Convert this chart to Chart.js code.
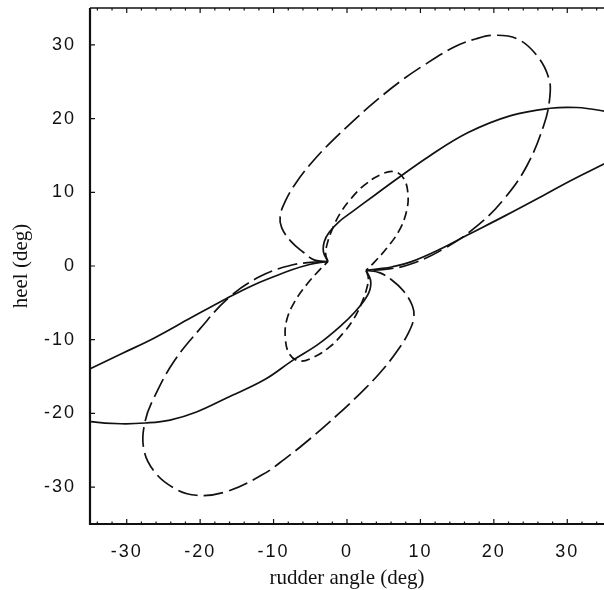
<!DOCTYPE html>
<html lang="en">
<head>
    <meta charset="UTF-8">
    <title>Heel vs rudder angle</title>
    <script src="https://cdn.jsdelivr.net/npm/chart.js"></script>
    <style>
        html, body { margin: 0; padding: 0; background: #fff; }
    </style>
</head>
<body>
    <canvas id="myChart" width="604" height="590"></canvas>

    <script>
        // axis ranges, ticks and labels
        var xRange = [-35, 35];
        var yRange = [-35, 35];
        var xTicks = [-30, -20, -10, 0, 10, 20, 30];
        var yTicks = [-30, -20, -10, 0, 10, 20, 30];
        var xTitle = 'rudder angle (deg)';
        var yTitle = 'heel (deg)';

        // solid curve, split at the two pinch points near the origin
        var solidLowerIn = [[-37, -14.9], [-34.9, -13.9], [-30.5, -11.8], [-26.3, -9.8], [-21.2, -7.0], [-16.4, -4.4],
            [-13, -2.7], [-10.1, -1.5], [-7.5, -0.5], [-5.1, 0.2], [-3.6, 0.5], [-2.6, 0.6]];
        var solidUpper = [[-2.6, 0.6], [-3.2, 1.9], [-3.1, 3.3], [-2.4, 4.6], [-1.1, 6.0], [0.5, 7.2], [3.9, 9.7],
            [7.2, 12.1], [11.2, 14.9], [16.5, 18.1], [22.3, 20.4], [27.7, 21.4], [31.3, 21.5], [34.5, 21.1], [37, 20.5]];
        var solidUpperIn = [[37, 14.9], [34.5, 13.6], [30.5, 11.6], [26.8, 9.6], [21.5, 6.8], [16.4, 4.2], [12.5, 2.2],
            [8.8, 0.6], [6.2, -0.1], [4.3, -0.4], [2.6, -0.6]];
        var solidLower = [[2.6, -0.6], [3.2, -1.9], [3.1, -3.3], [2.4, -4.6], [1.1, -6.2], [-0.6, -7.9], [-3.9, -10.6],
            [-7.4, -12.8], [-11.2, -15.4], [-16.4, -17.9], [-20.5, -19.8], [-24.1, -20.9], [-27.5, -21.3],
            [-30.8, -21.4], [-34.9, -21.1], [-37, -20.6]];

        // long dashed curve (big lobes)
        var longUpper = [[-2.6, 0.6], [-4.4, 0.8], [-6, 1.9], [-7.6, 3.3], [-8.9, 5.2], [-9.1, 6.8], [-8.4, 8.8],
            [-7, 11.2], [-5, 13.8], [-2.5, 16.5], [1.2, 20], [4.3, 22.7], [7.2, 25], [10.1, 27], [14.6, 29.7],
            [17.5, 30.8], [20, 31.3], [23.2, 30.8], [25.9, 28.5], [27.5, 25.4], [27.6, 22.7], [26.8, 19.1],
            [24.5, 13.6], [21.4, 9.1], [17.8, 5.5], [13.3, 2.4], [8.8, 0.3], [5.7, -0.4], [2.6, -0.6]];
        var longLower = [[2.6, -0.6], [4.4, -0.9], [6.1, -1.9], [7.7, -3.4], [8.9, -5.4], [9.1, -7.0], [8.4, -9.0],
            [7.0, -11.3], [5.0, -13.9], [2.5, -16.6], [-1.2, -20.1], [-5.1, -23.5], [-8.5, -26.2], [-11.5, -28.3],
            [-16.4, -30.6], [-20.5, -31.1], [-23.6, -30.1], [-26.3, -27.8], [-27.7, -24.7], [-27.5, -21.1],
            [-26.3, -17.9], [-23.6, -13], [-20, -8.5], [-16, -4.2], [-11.8, -1.4], [-8, 0], [-5, 0.5], [-2.6, 0.6]];

        // short dashed curve (small lobes)
        var shortUpper = [[-2.6, 0.6], [-2.9, 1.6], [-2.7, 3.0], [-2.0, 5.0], [-0.9, 7.2], [0.6, 9.2], [2.4, 11.0],
            [4.6, 12.4], [6.4, 12.8], [7.7, 11.9], [8.3, 9.8], [8.1, 7.4], [7.1, 4.8], [5.4, 2.4], [3.7, 0.5], [2.6, -0.6]];
        var shortLower = [[2.6, -0.6], [2.9, -1.6], [2.7, -3.0], [2.0, -5.0], [0.9, -7.2], [-0.6, -9.2], [-2.4, -11.0],
            [-4.6, -12.4], [-6.4, -12.9], [-7.8, -12.0], [-8.4, -9.8], [-8.2, -7.3], [-7.1, -4.8], [-5.4, -2.4],
            [-3.7, -0.5], [-2.6, 0.6]];

        function toPoints(arr) {
            return arr.map(function (p) { return { x: p[0], y: p[1] }; });
        }

        function curve(arr, dash) {
            return {
                data: toPoints(arr),
                showLine: true,
                borderColor: '#111',
                borderWidth: 1.7,
                borderDash: dash,
                pointRadius: 0,
                tension: 0.4,
                fill: false,
                clip: 0
            };
        }

        function fixedTicks(values) {
            return function (s) {
                s.ticks = values.map(function (v) { return { value: v }; });
            };
        }

        // tick labels are letter spaced in the original
        var spacedLabels = {
            id: 'spacedLabels',
            afterLayout: function (chart) {
                Object.values(chart.scales).forEach(function (s) {
                    if (s._spaced) return;
                    var orig = s.drawLabels;
                    s.drawLabels = function (area) {
                        var ctx = this.ctx;
                        ctx.save();
                        ctx.letterSpacing = '2px';
                        orig.call(this, area);
                        ctx.restore();
                    };
                    s._spaced = true;
                });
            }
        };

        // frame with inward ticks
        var frame = {
            id: 'frame',
            afterDatasetsDraw: function (chart) {
                var ctx = chart.ctx, a = chart.chartArea;
                var xs = chart.scales.x, ys = chart.scales.y;
                ctx.save();
                ctx.strokeStyle = '#111';
                ctx.lineWidth = 2.2;
                ctx.beginPath();
                ctx.moveTo(a.left, a.top);
                ctx.lineTo(a.left, a.bottom);
                ctx.lineTo(a.right, a.bottom);
                ctx.stroke();
                ctx.lineWidth = 1.5;
                ctx.beginPath();
                ctx.moveTo(a.left, a.top);
                ctx.lineTo(a.right, a.top);
                ctx.stroke();

                ctx.lineWidth = 1.2;
                ctx.beginPath();
                for (var v = -34; v <= 34; v += 2) {
                    var len = v % 10 === 0 ? 5 : 2.5;
                    var px = xs.getPixelForValue(v);
                    ctx.moveTo(px, a.bottom);
                    ctx.lineTo(px, a.bottom - len);
                    ctx.moveTo(px, a.top);
                    ctx.lineTo(px, a.top + len);
                }
                ys.ticks.forEach(function (t) {
                    var py = ys.getPixelForValue(t.value);
                    ctx.moveTo(a.left, py);
                    ctx.lineTo(a.left + 5, py);
                });
                ctx.stroke();
                ctx.restore();
            }
        };

        var tickFont = { family: 'Liberation Sans', size: 18 };
        var titleFont = { family: 'Liberation Serif', size: 21, lineHeight: 1.1 };

        var ctx = document.getElementById('myChart').getContext('2d');
        var myChart = new Chart(ctx, {
            type: 'scatter',
            data: {
                datasets: [
                    curve(solidLowerIn, []),
                    curve(solidUpper, []),
                    curve(solidUpperIn, []),
                    curve(solidLower, []),
                    curve(longUpper, [20, 6]),
                    curve(longLower, [20, 6]),
                    curve(shortUpper, [9, 5]),
                    curve(shortLower, [9, 5])
                ]
            },
            options: {
                responsive: false,
                animation: false,
                events: [],
                layout: { padding: { top: 8, right: 0, bottom: 0, left: 0 } },
                plugins: {
                    legend: { display: false },
                    tooltip: { enabled: false }
                },
                scales: {
                    x: {
                        type: 'linear',
                        min: xRange[0],
                        max: xRange[1],
                        afterBuildTicks: fixedTicks(xTicks),
                        grid: { display: false },
                        border: { display: false },
                        ticks: {
                            autoSkip: false,
                            maxRotation: 0,
                            padding: 9,
                            color: '#111',
                            font: tickFont
                        },
                        title: {
                            display: true,
                            text: xTitle,
                            color: '#111',
                            font: titleFont,
                            padding: { top: 0, bottom: 0 }
                        },
                        afterFit: function (s) {
                            s.height = 66;
                            s.paddingLeft = 0;
                            s.paddingRight = 0;
                        }
                    },
                    y: {
                        type: 'linear',
                        min: yRange[0],
                        max: yRange[1],
                        afterBuildTicks: fixedTicks(yTicks),
                        grid: { display: false },
                        border: { display: false },
                        ticks: {
                            autoSkip: false,
                            padding: 6,
                            color: '#111',
                            font: tickFont
                        },
                        title: {
                            display: true,
                            text: yTitle,
                            color: '#111',
                            font: titleFont,
                            padding: { top: 10, bottom: 0 }
                        },
                        afterFit: function (s) {
                            s.width = 90;
                            s.paddingTop = 0;
                            s.paddingBottom = 0;
                        }
                    }
                }
            },
            plugins: [spacedLabels, frame]
        });
    </script>
</body>
</html>
